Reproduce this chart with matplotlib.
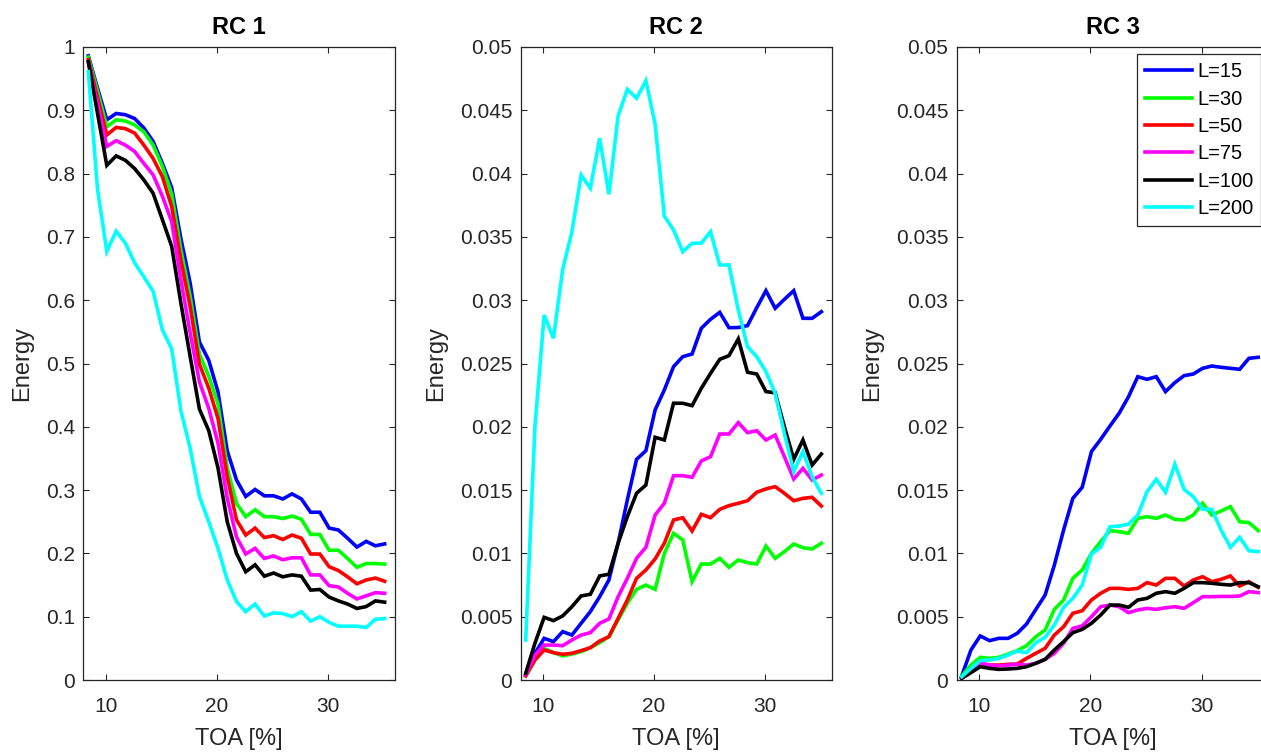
import numpy as np
import matplotlib
matplotlib.use("Agg")
import matplotlib.pyplot as plt
from matplotlib.ticker import FuncFormatter

plt.rcParams['font.family'] = ['Liberation Sans', 'DejaVu Sans']

# TOA [%] sample positions
toa = [8.45, 9.28, 10.11, 10.95, 11.78, 12.61, 13.44, 14.27, 15.11, 15.94,
       16.77, 17.60, 18.43, 19.27, 20.10, 20.93, 21.76, 22.59, 23.43, 24.26,
       25.09, 25.92, 26.75, 27.59, 28.42, 29.25, 30.08, 30.91, 31.74, 32.58,
       33.41, 34.24, 35.07]

labels = ["L=15", "L=30", "L=50", "L=75", "L=100", "L=200"]
colors = ["#0000ff", "#00ff00", "#ff0000", "#ff00ff", "#000000", "#00ffff"]

# RC 1
rc1_l15 = [0.986, 0.935, 0.885, 0.895, 0.893, 0.887, 0.872, 0.851, 0.816, 0.778,
           0.697, 0.627, 0.534, 0.505, 0.455, 0.362, 0.316, 0.290, 0.301, 0.291,
           0.291, 0.286, 0.294, 0.286, 0.265, 0.265, 0.240, 0.237, 0.224, 0.210,
           0.219, 0.212, 0.215]
rc1_l30 = [0.984, 0.930, 0.874, 0.885, 0.883, 0.877, 0.866, 0.845, 0.811, 0.768,
           0.679, 0.606, 0.515, 0.480, 0.436, 0.335, 0.279, 0.258, 0.269, 0.258,
           0.258, 0.255, 0.259, 0.254, 0.230, 0.230, 0.205, 0.205, 0.192, 0.178,
           0.184, 0.184, 0.183]
rc1_l50 = [0.980, 0.920, 0.861, 0.873, 0.871, 0.864, 0.845, 0.824, 0.795, 0.748,
           0.663, 0.590, 0.499, 0.461, 0.413, 0.321, 0.253, 0.229, 0.240, 0.225,
           0.228, 0.222, 0.229, 0.224, 0.199, 0.199, 0.179, 0.173, 0.163, 0.152,
           0.158, 0.161, 0.156]
rc1_l75 = [0.975, 0.910, 0.843, 0.852, 0.845, 0.835, 0.816, 0.798, 0.764, 0.724,
           0.632, 0.548, 0.471, 0.429, 0.374, 0.287, 0.226, 0.199, 0.208, 0.192,
           0.196, 0.190, 0.193, 0.193, 0.166, 0.166, 0.149, 0.147, 0.137, 0.128,
           0.133, 0.138, 0.137]
rc1_l100 = [0.977, 0.895, 0.813, 0.828, 0.821, 0.808, 0.790, 0.769, 0.727, 0.685,
            0.595, 0.511, 0.428, 0.394, 0.335, 0.250, 0.200, 0.171, 0.182, 0.164,
            0.169, 0.163, 0.166, 0.164, 0.142, 0.143, 0.131, 0.125, 0.120, 0.113,
            0.116, 0.125, 0.123]
rc1_l200 = [0.961, 0.775, 0.677, 0.709, 0.690, 0.659, 0.637, 0.614, 0.553, 0.523,
            0.425, 0.366, 0.290, 0.250, 0.208, 0.158, 0.124, 0.108, 0.120, 0.101,
            0.106, 0.105, 0.100, 0.108, 0.093, 0.100, 0.091, 0.085, 0.085, 0.085,
            0.083, 0.096, 0.097]

# RC 2
rc2_l15 = [0.0004, 0.0021, 0.00329, 0.00303, 0.00382, 0.00355, 0.00448, 0.0054,
           0.00658, 0.0079, 0.0108, 0.01422, 0.01743, 0.01811, 0.02133, 0.02291,
           0.02475, 0.02554, 0.02575, 0.02778, 0.02849, 0.02904, 0.02783, 0.02784,
           0.02799, 0.02941, 0.03075, 0.02936, 0.03007, 0.03075, 0.02857, 0.02857,
           0.02909]
rc2_l30 = [0.00032, 0.00158, 0.0025, 0.00216, 0.0019, 0.00205, 0.00224, 0.00255,
           0.00295, 0.00342, 0.00474, 0.00606, 0.00716, 0.0075, 0.00716, 0.0100,
           0.01159, 0.01106, 0.00777, 0.00916, 0.00916, 0.00961, 0.0089, 0.00948,
           0.00927, 0.00916, 0.01058, 0.00961, 0.01014, 0.01074, 0.01045, 0.01035,
           0.0108]
rc2_l50 = [0.00032, 0.00158, 0.00237, 0.00216, 0.00203, 0.00211, 0.00232, 0.00255,
           0.00308, 0.00342, 0.00487, 0.00632, 0.00803, 0.00869, 0.00956, 0.0108,
           0.01264, 0.01282, 0.01177, 0.01309, 0.01282, 0.01348, 0.01377, 0.01396,
           0.01416, 0.01483, 0.01509, 0.01527, 0.01475, 0.01416, 0.01435, 0.01443,
           0.01374]
rc2_l75 = [0.0004, 0.00197, 0.00276, 0.00276, 0.00271, 0.00316, 0.00355, 0.00374,
           0.00448, 0.00482, 0.00658, 0.00803, 0.00961, 0.01048, 0.01303, 0.01396,
           0.01614, 0.01614, 0.01601, 0.0173, 0.01764, 0.01943, 0.01943, 0.02033,
           0.01954, 0.01969, 0.01896, 0.01935, 0.01764, 0.01588, 0.01672, 0.0158,
           0.01619]
rc2_l100 = [0.00053, 0.0029, 0.00495, 0.00469, 0.00506, 0.00579, 0.00664, 0.00677,
            0.00822, 0.00835, 0.0108, 0.0129, 0.01475, 0.0154, 0.01917, 0.01896,
            0.02186, 0.02186, 0.02167, 0.02304, 0.02422, 0.02533, 0.02562, 0.02694,
            0.02431, 0.02417, 0.02278, 0.02269, 0.02001, 0.01743, 0.01896, 0.01698,
            0.01785]
rc2_l200 = [0.00316, 0.0200, 0.02883, 0.02699, 0.03244, 0.03541, 0.03989, 0.03884,
            0.04279, 0.03836, 0.04455, 0.04666, 0.04595, 0.04734, 0.04392, 0.03665,
            0.03555, 0.03383, 0.03449, 0.03451, 0.03541, 0.03278, 0.03278, 0.02923,
            0.02633, 0.02554, 0.02436, 0.02264, 0.01948, 0.01646, 0.01804, 0.01606,
            0.01474]

# RC 3
rc3_l15 = [0.00032, 0.00237, 0.00348, 0.00311, 0.00329, 0.00329, 0.00369, 0.00442,
           0.00558, 0.00671, 0.00908, 0.01185, 0.01435, 0.01522, 0.01804, 0.01901,
           0.02006, 0.02107, 0.02238, 0.02396, 0.02375, 0.02396, 0.02278, 0.02349,
           0.02404, 0.02417, 0.02462, 0.0248, 0.0247, 0.02462, 0.02454, 0.02541,
           0.02549]
rc3_l30 = [0.00032, 0.00118, 0.00179, 0.00171, 0.00179, 0.00205, 0.00232, 0.00271,
           0.00342, 0.00395, 0.00558, 0.00632, 0.00803, 0.00869, 0.0100, 0.01093,
           0.0118, 0.01171, 0.01159, 0.01277, 0.0129, 0.01277, 0.01303, 0.01269,
           0.01264, 0.01303, 0.01396, 0.01303, 0.01335, 0.01369, 0.0125, 0.01243,
           0.0118]
rc3_l50 = [0.00021, 0.00074, 0.00132, 0.00118, 0.00118, 0.00124, 0.00126, 0.00171,
           0.00211, 0.0025, 0.00355, 0.00421, 0.00527, 0.00547, 0.00632, 0.00685,
           0.00724, 0.00724, 0.00716, 0.00724, 0.00769, 0.0075, 0.00803, 0.00803,
           0.00742, 0.0079, 0.00816, 0.00777, 0.00795, 0.00822, 0.00742, 0.00777,
           0.00732]
rc3_l75 = [0.00013, 0.00074, 0.00132, 0.00118, 0.00111, 0.00118, 0.00124, 0.00118,
           0.00132, 0.00163, 0.00211, 0.0029, 0.00408, 0.00427, 0.005, 0.00579,
           0.00592, 0.00579, 0.00532, 0.00553, 0.00566, 0.00558, 0.00571, 0.00579,
           0.00566, 0.00611, 0.00658, 0.00658, 0.0066, 0.0066, 0.00663, 0.00698,
           0.0069]
rc3_l100 = [0.00013, 0.00058, 0.00105, 0.00092, 0.00084, 0.00087, 0.00092, 0.00105,
            0.00132, 0.00163, 0.00237, 0.00303, 0.00374, 0.004, 0.00448, 0.00513,
            0.00592, 0.00592, 0.00574, 0.00632, 0.00645, 0.00685, 0.00698, 0.00685,
            0.00724, 0.00769, 0.00769, 0.00764, 0.00756, 0.0075, 0.00769, 0.00769,
            0.00737]
rc3_l200 = [0.00026, 0.00092, 0.00153, 0.00158, 0.00171, 0.00197, 0.00229, 0.00216,
            0.00295, 0.00337, 0.00434, 0.00574, 0.00645, 0.0075, 0.00995, 0.01048,
            0.01211, 0.01216, 0.01232, 0.01303, 0.01487, 0.01585, 0.01483, 0.01704,
            0.01506, 0.01448, 0.01348, 0.01348, 0.01185, 0.01048, 0.01127, 0.01021,
            0.01014]

panels = [
    ("RC 1", [rc1_l15, rc1_l30, rc1_l50, rc1_l75, rc1_l100, rc1_l200], 1.0, 0.1),
    ("RC 2", [rc2_l15, rc2_l30, rc2_l50, rc2_l75, rc2_l100, rc2_l200], 0.05, 0.005),
    ("RC 3", [rc3_l15, rc3_l30, rc3_l50, rc3_l75, rc3_l100, rc3_l200], 0.05, 0.005),
]

W, H = 1261, 754
fig = plt.figure(figsize=(W / 100, H / 100), dpi=100)

# axes boxes in pixels (left, top, right, bottom); the third one runs past the edge
boxes = [(83.3, 47, 395, 680), (520.7, 47, 831.7, 680), (956.7, 47, 1268.5, 680)]
axcol = "#262626"

for (title, series, ymax, ystep), (l, t, r, b) in zip(panels, boxes):
    ax = fig.add_axes([l / W, (H - b) / H, (r - l) / W, (b - t) / H])
    for ys, c, lab in zip(series, colors, labels):
        ax.plot(toa, ys, color=c, lw=2.6, label=lab, solid_joinstyle="miter")
    ax.set_xlim(8, 36)
    ax.set_ylim(0, ymax)
    ax.set_xticks([10, 20, 30])
    ax.set_yticks(np.arange(0, ymax + ystep / 2, ystep))
    ax.yaxis.set_major_formatter(FuncFormatter(lambda v, p: f"{v:.4g}"))
    ax.tick_params(direction="in", length=4.5, width=0.8, top=True, right=True,
                   labelsize=15, colors=axcol, labelcolor=axcol)
    ax.tick_params(axis="x", pad=12)
    ax.tick_params(axis="y", pad=6)
    for s in ax.spines.values():
        s.set_color(axcol)
        s.set_linewidth(0.9)
    ax.set_title(title, fontsize=17, fontweight="bold", pad=9, color="black")
    ax.set_xlabel("TOA [%]", fontsize=17, color=axcol, labelpad=9)
    ax.set_ylabel("Energy", fontsize=17, color=axcol, labelpad=9)
    if title == "RC 3":
        leg = ax.legend(loc="upper right", fontsize=14.5, frameon=True, fancybox=False,
                        framealpha=1, edgecolor=axcol, handlelength=2.35,
                        handletextpad=0.25, labelspacing=0.42, borderpad=0.4,
                        borderaxespad=0.35)
        leg.get_frame().set_linewidth(0.9)

fig.savefig("out.png", dpi=100)
